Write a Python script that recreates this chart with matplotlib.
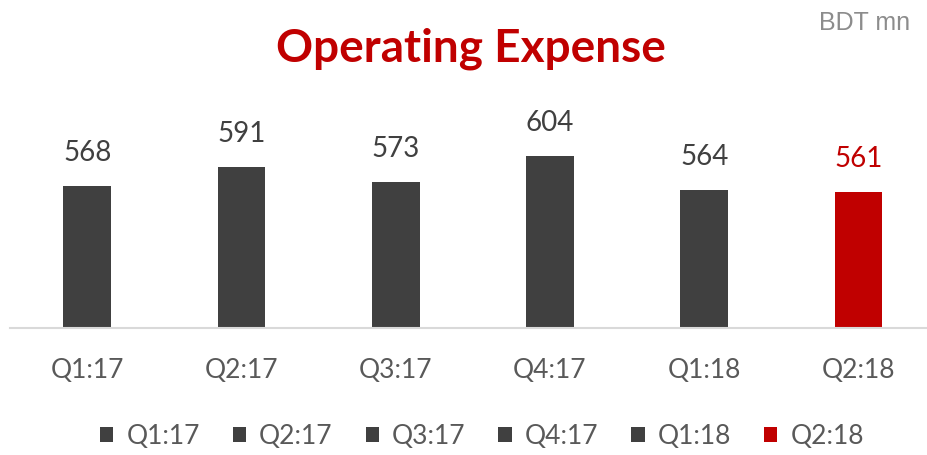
import matplotlib.pyplot as plt
from matplotlib.patches import Patch

quarters = ["Q1:17", "Q2:17", "Q3:17", "Q4:17", "Q1:18", "Q2:18"]
opex = [568, 591, 573, 604, 564, 561]
bar_colors = ["#404040", "#404040", "#404040", "#404040", "#404040", "#C00000"]
label_colors = ["#404040", "#404040", "#404040", "#404040", "#404040", "#C00000"]

plt.rcParams['font.family'] = ['Lato', 'DejaVu Sans']

fig = plt.figure(figsize=(9.28, 4.56), dpi=100)
ax = fig.add_axes([10 / 928, 1 - 329 / 456, 918 / 928, 211 / 456])

x = list(range(len(quarters)))
ax.bar(x, opex, width=0.31, color=bar_colors, zorder=2)

# value labels above bars
for xi, v, c in zip(x, opex, label_colors):
    ax.annotate(str(v), (xi, v), xytext=(0, 34 / 1.389), textcoords="offset points",
                ha="center", va="center", fontsize=20, color=c)

ax.set_xlim(-0.5, 5.45)
ax.set_ylim(400, 650)
ax.set_xticks(x)
ax.set_xticklabels(quarters, fontsize=19, color="#595959")
ax.tick_params(axis="x", length=0, pad=21)
ax.set_yticks([])
for s in ["top", "left", "right"]:
    ax.spines[s].set_visible(False)
ax.spines["bottom"].set_color("#d9d9d9")
ax.spines["bottom"].set_linewidth(1.5)

# title and unit
fig.text(471 / 928, 1 - 62 / 456, "Operating Expense", ha="center", va="baseline",
         fontsize=33, fontweight="bold", color="#C00000")
fig.text(910 / 928, 1 - 30 / 456, "BDT mn", ha="right", va="baseline",
         fontsize=18, color="#8c8c8c",
         family=["Liberation Sans Narrow", "Liberation Sans"])

handles = [Patch(facecolor=c, label=q) for q, c in zip(quarters, bar_colors)]
fig.legend(handles=handles, loc="center", bbox_to_anchor=(482 / 928, 1 - 437 / 456),
           ncol=6, frameon=False, fontsize=19, handlelength=0.5, handleheight=0.5,
           handletextpad=0.5, columnspacing=1.25, labelcolor="#595959")

fig.savefig("out.png", dpi=100)
